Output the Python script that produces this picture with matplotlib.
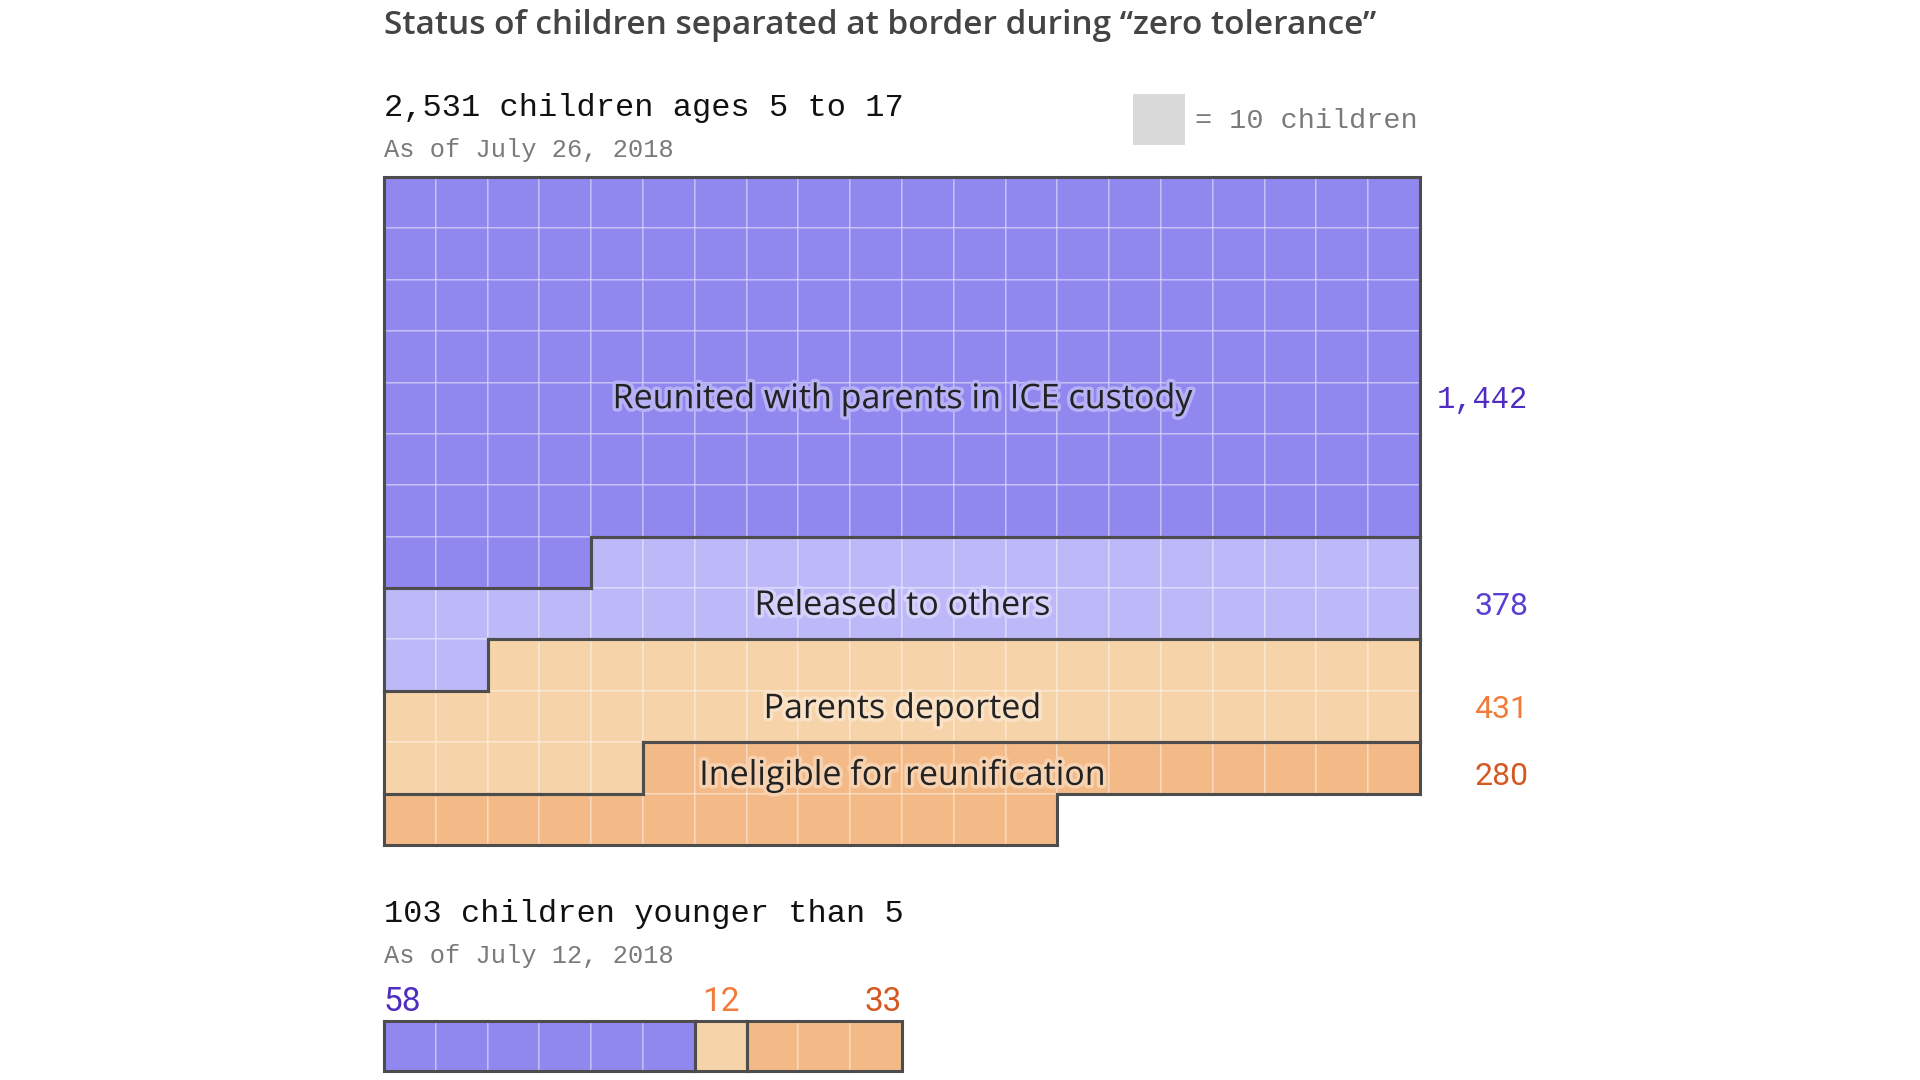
import matplotlib
matplotlib.use('Agg')
import matplotlib.pyplot as plt
import matplotlib.patheffects as pe
from matplotlib.collections import LineCollection
from matplotlib.patches import Rectangle
from matplotlib.transforms import offset_copy
from matplotlib.colors import to_rgb
import numpy as np

# ---------------- data ----------------
title = "Status of children separated at border during \u201czero tolerance\u201d"
older_header = "2,531 children ages 5 to 17"
older_date = "As of July 26, 2018"
younger_header = "103 children younger than 5"
younger_date = "As of July 12, 2018"
legend_text = "= 10 children"

categories = ["Reunited with parents in ICE custody", "Released to others",
              "Parents deported", "Ineligible for reunification"]
older_counts = [1442, 378, 431, 280]

younger_categories = ["Reunited with parents in ICE custody", "Parents deported",
                      "Ineligible for reunification"]
younger_counts = [58, 12, 33]

children_per_square = 10

# ---------------- styles ----------------
fill_colors = {
    "Reunited with parents in ICE custody": "#9087EF",
    "Released to others": "#BDB9F9",
    "Parents deported": "#F7D3A9",
    "Ineligible for reunification": "#F3BA87",
}
value_colors = {
    "Reunited with parents in ICE custody": "#4F2DBF",
    "Released to others": "#5B3FD3",
    "Parents deported": "#F07C3C",
    "Ineligible for reunification": "#D4581F",
}
value_fonts = ["Liberation Mono", "Roboto", "Roboto", "Roboto"]
label_baseline_rows = [4.5, 8.52, 10.53, 11.83]
OUTLINE = "#4D4D4D"

W, H = 1920, 1080
fig = plt.figure(figsize=(W / 100, H / 100), dpi=100)
fig.patch.set_facecolor("white")


def px_axes(left, top, right, bottom):
    return fig.add_axes([left / W, 1 - bottom / H, (right - left) / W, (bottom - top) / H])


def lighten(c, f):
    r, g, b = to_rgb(c)
    return (r + (1 - r) * f, g + (1 - g) * f, b + (1 - b) * f)


def waffle(ax, cats, counts, ncols):
    squares = [int(round(c / children_per_square)) for c in counts]
    labels = np.repeat(np.arange(len(cats)), squares)
    n = len(labels)
    nrows = int(np.ceil(n / ncols))
    idx = np.arange(n)
    rows = idx // ncols
    cols = idx % ncols
    colors = [fill_colors[cats[k]] for k in labels]
    ax.bar(cols, 1, width=1, bottom=rows, align="edge", color=colors,
           edgecolor=(1, 1, 1, 0.3), linewidth=1.3)
    grid = -np.ones((nrows, ncols), int)
    grid[rows, cols] = labels
    segs = []
    for r in range(nrows):
        for c in range(ncols):
            k = grid[r, c]
            if k < 0:
                continue
            if r == 0 or grid[r - 1, c] != k:
                segs.append([(c, r), (c + 1, r)])
            if r == nrows - 1 or grid[r + 1, c] != k:
                segs.append([(c, r + 1), (c + 1, r + 1)])
            if c == 0 or grid[r, c - 1] != k:
                segs.append([(c, r), (c, r + 1)])
            if c == ncols - 1 or grid[r, c + 1] != k:
                segs.append([(c + 1, r), (c + 1, r + 1)])
    lc = LineCollection(segs, colors=OUTLINE, linewidths=2.2, capstyle="projecting")
    lc.set_clip_on(False)
    ax.add_collection(lc)
    ax.set_xlim(0, ncols)
    ax.set_ylim(nrows, 0)
    ax.axis("off")
    return squares


# ---------------- texts ----------------
fig.text(384 / W, 1 - 34 / H, title, family="Open Sans", weight="semibold", fontsize=24,
         color="#444444", va="baseline", ha="left")
fig.text(384 / W, 1 - 116 / H, older_header, family="Liberation Mono", fontsize=23,
         color="#111111", va="baseline", ha="left")
fig.text(384 / W, 1 - 156.7 / H, older_date, family="Liberation Mono", fontsize=18.3,
         color="#7A7A7A", va="baseline", ha="left")
fig.patches.append(Rectangle((1133 / W, 1 - 145 / H), 52 / W, 51 / H,
                             transform=fig.transFigure, facecolor="#DADADA",
                             edgecolor="none"))
fig.text(1195 / W, 1 - 128.3 / H, legend_text, family="Liberation Mono", fontsize=20.5,
         color="#7A7A7A", va="baseline", ha="left")
fig.text(384 / W, 1 - 921.7 / H, younger_header, family="Liberation Mono", fontsize=23,
         color="#111111", va="baseline", ha="left")
fig.text(384 / W, 1 - 962.7 / H, younger_date, family="Liberation Mono", fontsize=18.3,
         color="#7A7A7A", va="baseline", ha="left")

# ---------------- older waffle ----------------
ax = px_axes(384, 177, 1420, 845)
waffle(ax, categories, older_counts, 20)
for i, (cat, cnt) in enumerate(zip(categories, older_counts)):
    ax.text(10, label_baseline_rows[i], cat, family="Open Sans", fontsize=24.5, color="#222222",
            ha="center", va="baseline",
            path_effects=[pe.withStroke(linewidth=5, foreground=lighten(fill_colors[cat], 0.35))])
    ax.text(22.09, label_baseline_rows[i], f"{cnt:,}", family=value_fonts[i], fontsize=23 if i else 22,
            color=value_colors[cat], ha="right", va="baseline", clip_on=False)

# ---------------- younger bar ----------------
ax2 = px_axes(384, 1020.7, 902, 1070.7)
sq = waffle(ax2, younger_categories, younger_counts, 10)
above = offset_copy(ax2.transData, fig=fig, x=0, y=10, units="dots")
start = 0
for i, (cat, cnt) in enumerate(zip(younger_categories, younger_counts)):
    end = start + sq[i]
    if i == 0:
        x, ha = start, "left"
    elif i == len(younger_counts) - 1:
        x, ha = end, "right"
    else:
        x, ha = (start + end) / 2, "center"
    ax2.text(x, 0, f"{cnt:,}", transform=above, family="Roboto", fontsize=24,
             color=value_colors[cat], ha=ha, va="baseline", clip_on=False)
    start = end

fig.savefig("out.png", dpi=100, facecolor="white")
